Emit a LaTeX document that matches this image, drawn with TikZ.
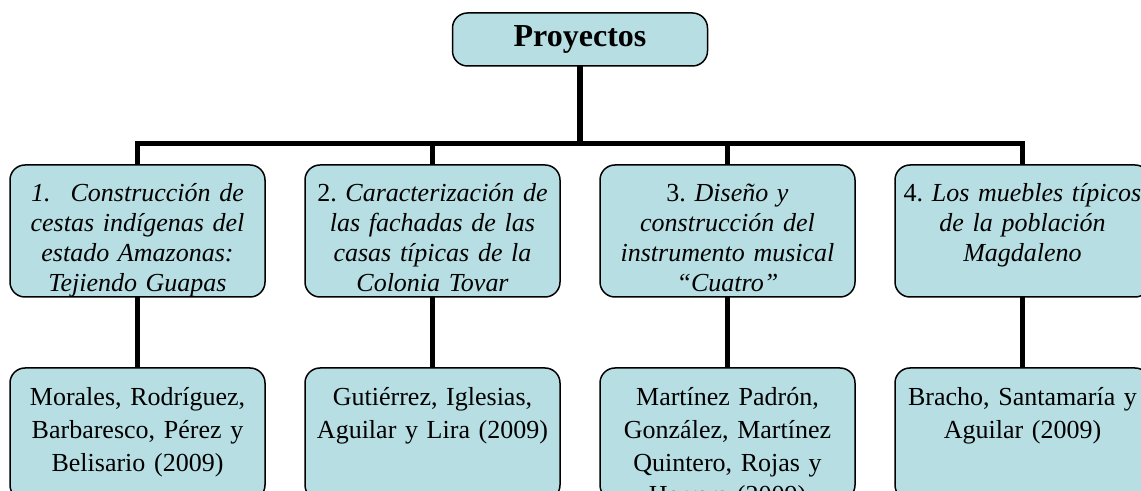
\documentclass[tikz,border=0pt]{standalone}
\usepackage{fontspec}
\setmainfont{Liberation Serif}
\usepackage{tikz}
\usetikzlibrary{positioning}
\definecolor{cajaazul}{RGB}{183,222,227}
\frenchspacing
\hyphenpenalty=10000
\exhyphenpenalty=10000

\begin{document}
\begin{tikzpicture}[
    caja/.style={rectangle, draw=black, fill=cajaazul, line width=0.75pt, rounded corners=7.5pt, outer sep=0pt, inner xsep=1.25pt, inner ysep=0pt, text width=125pt, align=center},
    titulo/.style={caja, minimum height=26.5pt, font=\fontsize{16pt}{19pt}\selectfont\bfseries},
    proyecto/.style={caja, text height=18.5pt, text depth=47.5pt, font=\fontsize{13pt}{15pt}\selectfont},
    autores/.style={caja, text height=19pt, text depth=47pt, font=\fontsize{13pt}{16.3pt}\selectfont},
    rama/.style={line width=2.6pt}
]
    \useasboundingbox (0,0) rectangle (570.5pt,-245.5pt);

    \node[titulo] (proyectos) at (290pt,-19.75pt) {Proyectos};

    \node[proyecto, below left=49.5pt and 93.75pt of proyectos] (p1) {{\itshape 1.\hspace{10pt}Construcción de\\ cestas indígenas del\\ estado Amazonas:\\ Tejiendo Guapas}};
    \node[proyecto, right=20pt of p1] (p2) {2. {\itshape Caracterización de\\ las fachadas de las\\ casas típicas de la\\ Colonia Tovar}};
    \node[proyecto, right=20pt of p2] (p3) {3. {\itshape Diseño y\\ construcción del\\ instrumento musical\\ “Cuatro”}};
    \node[proyecto, right=20pt of p3] (p4) {4. {\itshape Los muebles típicos\\ de la población\\ Magdaleno}};

    \node[autores, below=35.5pt of p1] (a1) {Morales, Rodríguez,\\ Barbaresco, Pérez y\\ Belisario (2009)};
    \node[autores, below=35.5pt of p2] (a2) {Gutiérrez, Iglesias,\\ Aguilar y Lira (2009)};
    \node[autores, below=35.5pt of p3] (a3) {Martínez Padrón,\\ González, Martínez\\ Quintero, Rojas y\\ Herrera (2009)};
    \node[autores, below=35.5pt of p4] (a4) {Bracho, Santamaría y\\ Aguilar (2009)};

    \foreach \n in {1,...,4}{
        \draw[rama] (proyectos.south) -- ++(0,-38.75pt) -| (p\n.north);
        \draw[rama] (p\n.south) -- (a\n.north);
    }
\end{tikzpicture}
\end{document}
